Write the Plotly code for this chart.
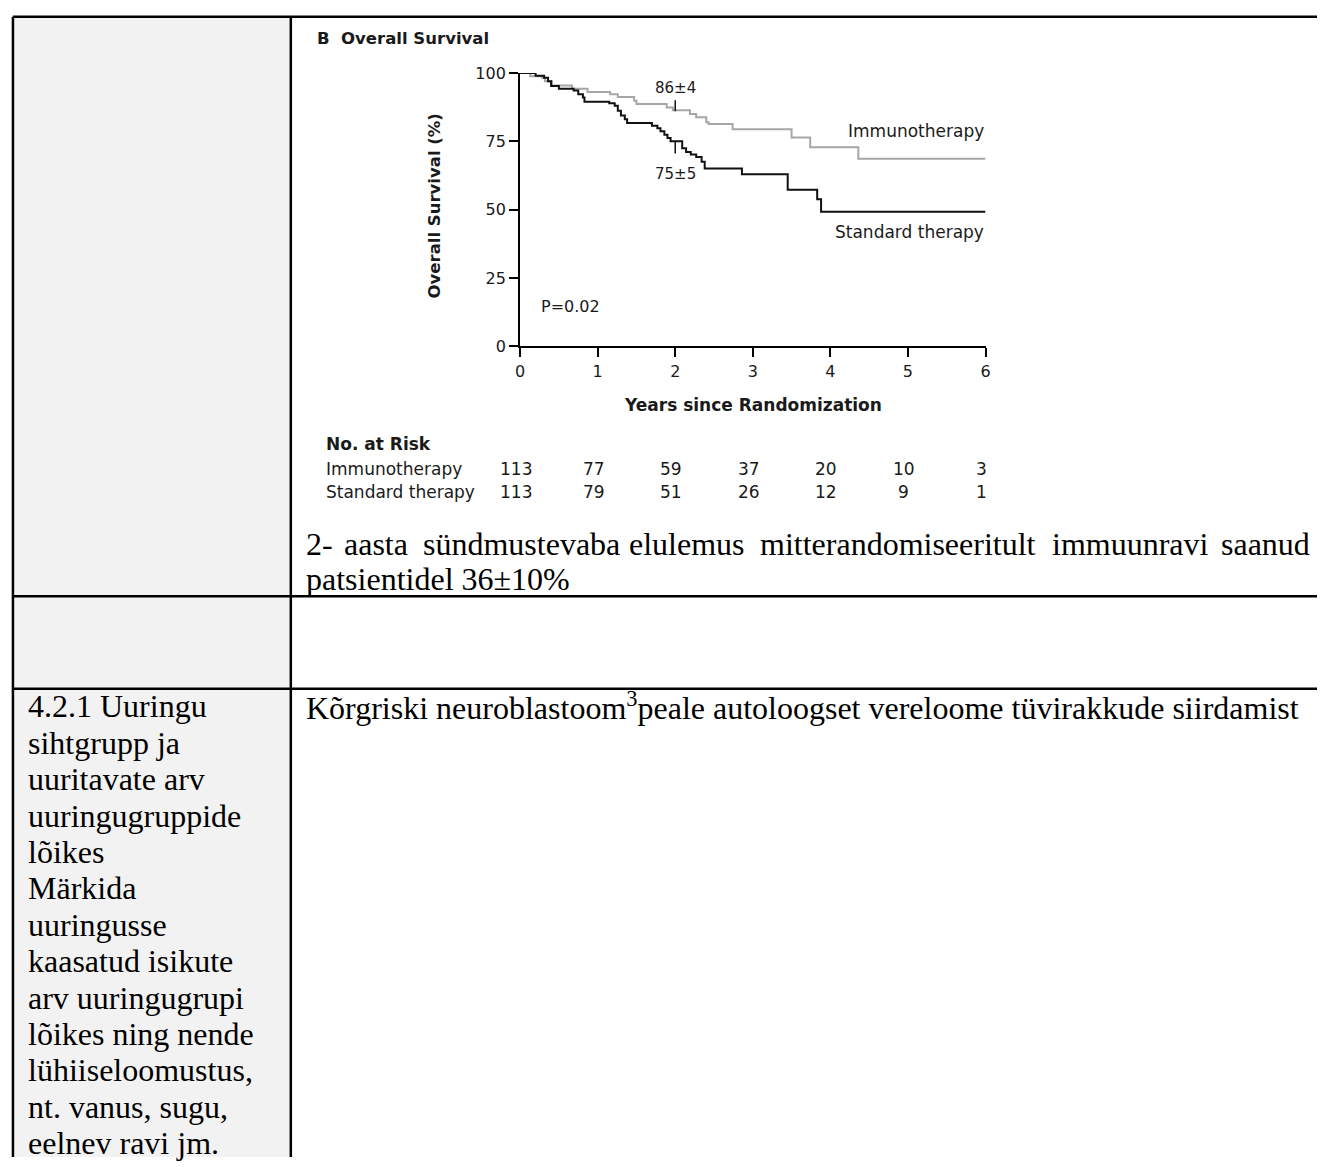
import plotly.graph_objects as go

W, H = 1322, 1167

# ---------------- data ----------------
imm_t = [0, 0.13, 0.28, 0.32, 0.41, 0.67, 0.87, 1.16, 1.26, 1.47, 1.50, 1.89, 1.97,
         2.19, 2.27, 2.40, 2.43, 2.74, 3.50, 3.74, 4.36, 6.0]
imm_s = [100, 98.8, 98.2, 97.0, 95.4, 94.2, 93.0, 92.2, 91.2, 89.8, 88.6, 87.4, 86.4,
         85.0, 83.8, 82.0, 81.3, 79.4, 76.4, 72.8, 68.6, 68.6]

std_t = [0, 0.20, 0.31, 0.36, 0.40, 0.50, 0.69, 0.75, 0.81, 0.83, 1.15, 1.22, 1.26, 1.30,
         1.35, 1.38, 1.70, 1.77, 1.81, 1.86, 1.90, 1.94, 2.09, 2.14, 2.20, 2.27, 2.34,
         2.38, 2.86, 3.45, 3.83, 3.88, 6.0]
std_s = [100, 99.0, 98.2, 97.0, 95.2, 94.2, 93.6, 92.2, 91.0, 89.5, 88.9, 88.0, 86.2, 84.4,
         83.1, 81.7, 80.7, 79.8, 78.7, 77.4, 76.2, 75.0, 72.5, 71.1, 70.2, 69.3, 67.5,
         65.1, 63.0, 57.3, 53.8, 49.2, 49.2]

mark_year = 2
imm_2yr, imm_2yr_se = 86, 4
std_2yr, std_2yr_se = 75, 5
p_value = "P=0.02"

risk_years = [0, 1, 2, 3, 4, 5, 6]
risk_imm = [113, 77, 59, 37, 20, 10, 3]
risk_std = [113, 79, 51, 26, 12, 9, 1]
x_ticks = [0, 1, 2, 3, 4, 5, 6]
y_ticks = [0, 25, 50, 75, 100]

caption_words = ["2-", "aasta", "sündmustevaba", "elulemus", "mitterandomiseeritult",
                 "immuunravi", "saanud"]
caption_word_x = [302, 341, 420, 628, 760, 1054, 1224]
caption_line2 = "patsientidel 36±10%"
bottom_right_text = "Kõrgriski neuroblastoom<sup>3</sup>peale autoloogset vereloome tüvirakkude siirdamist"
left_lines = ["4.2.1 Uuringu", "sihtgrupp ja", "uuritavate arv", "uuringugruppide", "lõikes",
              "Märkida", "uuringusse", "kaasatud isikute", "arv uuringugrupi",
              "lõikes ning nende", "lühiiseloomustus,", "nt. vanus, sugu,", "eelnev ravi jm."]


def px(x):
    return x / W


def py(y):
    return 1 - y / H


CF = "DejaVu Sans"
DF = "Liberation Serif"
TXT = "#1a1a1a"

fig = go.Figure()

fig.add_trace(go.Scatter(x=imm_t, y=imm_s, mode="lines", line=dict(color="#a6a6a6", width=2, shape="hv"),
                         cliponaxis=False, hoverinfo="skip", showlegend=False))
fig.add_trace(go.Scatter(x=std_t, y=std_s, mode="lines", line=dict(color="#111111", width=2, shape="hv"),
                         cliponaxis=False, hoverinfo="skip", showlegend=False))
# 2-year marks
fig.add_trace(go.Scatter(x=[mark_year, mark_year], y=[imm_2yr, imm_2yr + 4], mode="lines",
                         line=dict(color="#111111", width=1.5), cliponaxis=False, hoverinfo="skip", showlegend=False))
fig.add_trace(go.Scatter(x=[mark_year, mark_year], y=[std_2yr, std_2yr - 4.5], mode="lines",
                         line=dict(color="#111111", width=1.5), cliponaxis=False, hoverinfo="skip", showlegend=False))

ann = []
ann.append(dict(x=mark_year, y=94.6, xref="x", yref="y", text=f"{imm_2yr}±{imm_2yr_se}", showarrow=False,
                font=dict(family=CF, size=15, color=TXT), xanchor="center", yanchor="middle"))
ann.append(dict(x=mark_year, y=63.2, xref="x", yref="y", text=f"{std_2yr}±{std_2yr_se}", showarrow=False,
                font=dict(family=CF, size=15, color=TXT), xanchor="center", yanchor="middle"))
ann.append(dict(x=6, y=78.6, xref="x", yref="y", text="Immunotherapy", showarrow=False,
                font=dict(family=CF, size=17, color=TXT), xanchor="right", yanchor="middle"))
ann.append(dict(x=6, y=41.7, xref="x", yref="y", text="Standard therapy", showarrow=False,
                font=dict(family=CF, size=17, color=TXT), xanchor="right", yanchor="middle"))
ann.append(dict(x=0.24, y=14.5, xref="x", yref="y", text=p_value, showarrow=False,
                font=dict(family=CF, size=16, color=TXT), xanchor="left", yanchor="middle"))

# chart titles
ann.append(dict(x=px(312), y=py(30), xref="paper", yref="paper", text="<b>B  Overall Survival</b>",
                showarrow=False, font=dict(family=CF, size=16.5, color=TXT), xanchor="left", yanchor="middle"))
ann.append(dict(x=px(433), y=py(200), xref="paper", yref="paper", text="<b>Overall Survival (%)</b>",
                showarrow=False, textangle=-90, font=dict(family=CF, size=16.5, color=TXT),
                xanchor="center", yanchor="middle"))
ann.append(dict(x=3, y=py(403), xref="x", yref="paper", text="<b>Years since Randomization</b>",
                showarrow=False, font=dict(family=CF, size=17, color=TXT), xanchor="center", yanchor="middle"))
ann.append(dict(x=px(321), y=py(442), xref="paper", yref="paper", text="<b>No. at Risk</b>",
                showarrow=False, font=dict(family=CF, size=17, color=TXT), xanchor="left", yanchor="middle"))
for label, vals, yy in [("Immunotherapy", risk_imm, 468), ("Standard therapy", risk_std, 491)]:
    ann.append(dict(x=px(321), y=py(yy), xref="paper", yref="paper", text=label, showarrow=False,
                    font=dict(family=CF, size=17, color=TXT), xanchor="left", yanchor="middle"))
    for t, v in zip(risk_years, vals):
        ann.append(dict(x=t, y=py(yy), xref="x", yref="paper", text=str(v), showarrow=False,
                        font=dict(family=CF, size=17, color=TXT), xanchor="center", yanchor="middle",
                        xshift=-4))

# document text
DS = 32
off = 10
for w, x in zip(caption_words, caption_word_x):
    ann.append(dict(x=px(x), y=py(554 - off), xref="paper", yref="paper", text=w, showarrow=False,
                    font=dict(family=DF, size=DS, color="#000"), xanchor="left", yanchor="middle", borderpad=0))
ann.append(dict(x=px(302), y=py(589 - off), xref="paper", yref="paper", text=caption_line2, showarrow=False,
                font=dict(family=DF, size=DS, color="#000"), xanchor="left", yanchor="middle", borderpad=0))
ann.append(dict(x=px(302), y=py(719 - off), xref="paper", yref="paper", text=bottom_right_text, showarrow=False,
                font=dict(family=DF, size=DS, color="#000"), xanchor="left", yanchor="middle", borderpad=0))
for k, line in enumerate(left_lines):
    ann.append(dict(x=px(22), y=py(719 + 37 * k - off), xref="paper", yref="paper", text=line, showarrow=False,
                    font=dict(family=DF, size=DS, color="#000"), xanchor="left", yanchor="middle", borderpad=0))

# table shapes
shapes = []
shapes.append(dict(type="rect", xref="paper", yref="paper", x0=px(8), x1=px(288), y0=py(H), y1=py(8),
                   fillcolor="#f2f2f2", line=dict(width=0), layer="below"))
LW = 2.5
for (x0, y0, x1, y1) in [(8, 8, W, 8), (8, 597, W, 597), (8, 691, W, 691),
                         (8, 8, 8, H), (288, 8, 288, H)]:
    shapes.append(dict(type="line", xref="paper", yref="paper", x0=px(x0), x1=px(x1), y0=py(y0), y1=py(y1),
                       line=dict(color="#000", width=LW), layer="above"))

axis_common = dict(showline=True, linecolor="#000", linewidth=2, ticks="outside", ticklen=9, tickwidth=2,
                   tickcolor="#000", showgrid=False, zeroline=False,
                   tickfont=dict(family=CF, size=16, color=TXT), fixedrange=True)

fig.update_layout(
    width=W, height=H, autosize=False,
    margin=dict(l=0, r=0, t=0, b=0),
    paper_bgcolor="white", plot_bgcolor="white",
    xaxis=dict(domain=[px(519), px(988)], range=[0, 6], tickvals=x_ticks, ticktext=[str(v) for v in x_ticks],
               **axis_common),
    yaxis=dict(domain=[py(343), py(65)], range=[0, 100], tickvals=y_ticks, ticktext=[str(v) for v in y_ticks],
               **axis_common),
    annotations=ann, shapes=shapes, showlegend=False,
)

fig.write_html("out.html", config={"displayModeBar": False},
               post_script="document.body.style.margin='0px';document.body.style.padding='0px';"
                           "document.body.style.overflow='hidden';")
